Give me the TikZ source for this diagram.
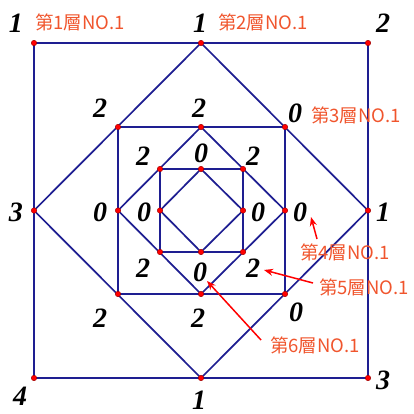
\documentclass[tikz,border=0pt]{standalone}
\usepackage{fontspec}
\setmainfont{Liberation Serif}
\newfontfamily\cjk{Noto Sans CJK TC}
\usetikzlibrary{arrows.meta}
\definecolor{navy}{RGB}{30,30,145}
\definecolor{lbl}{RGB}{240,85,45}
\begin{document}
\begin{tikzpicture}[x=1pt,y=-1pt,
  edge/.style={draw=navy,line width=1.7pt,line join=round},
  dot/.style={circle,fill=red,draw=red!60!black,line width=0.4pt,inner sep=0,minimum size=5.5pt},
  num/.style={font=\fontsize{28}{28}\selectfont\bfseries\itshape,inner sep=0},
  tag/.style={font=\cjk\fontsize{18.5}{18.5}\selectfont,text=lbl,inner sep=0},
  ptr/.style={draw=red,line width=1.5pt,-{Stealth[length=9pt,width=7pt]}}]
\useasboundingbox (0,0) rectangle (413,414);
% vertices
\coordinate (A1) at (34,43);  \coordinate (A2) at (368,43);
\coordinate (A3) at (368,378); \coordinate (A4) at (34,378);
\coordinate (B1) at (201,43);  \coordinate (B2) at (368,210.5);
\coordinate (B3) at (201,378); \coordinate (B4) at (34,210.5);
\coordinate (C1) at (118,127); \coordinate (C2) at (285,127);
\coordinate (C3) at (285,294); \coordinate (C4) at (118,294);
\coordinate (D1) at (201,127); \coordinate (D2) at (285,210.5);
\coordinate (D3) at (201,294); \coordinate (D4) at (118,210.5);
\coordinate (E1) at (160,169); \coordinate (E2) at (243,169);
\coordinate (E3) at (243,252); \coordinate (E4) at (160,252);
\coordinate (F1) at (201,169); \coordinate (F2) at (243,210.5);
\coordinate (F3) at (201,252); \coordinate (F4) at (160,210.5);
% polygons
\foreach \L in {A,B,C,D,E,F}{
  \path[edge] (\L1)--(\L2)--(\L3)--(\L4)--cycle;
}
% dots
\foreach \L in {A,B,C,D,E,F}{
  \foreach \i in {1,2,3,4}{ \node[dot] at (\L\i) {}; }
}
% numbers
\node[num] (nA1) at (16,23) {1};
\node[num] (nB1) at (200,23) {1};
\node[num] (nA2) at (383,23) {2};
\node[num] (nC1) at (100,108) {2};
\node[num] (nD1) at (199,108) {2};
\node[num] (nC2) at (295,113) {0};
\node[num] (nE1) at (143,156) {2};
\node[num] (nF1) at (201,153) {0};
\node[num] (nE2) at (253,156) {2};
\node[num] (nB4) at (16,212) {3};
\node[num] (nD4) at (100,212) {0};
\node[num] (nF4) at (144,212) {0};
\node[num] (nF2) at (258,212) {0};
\node[num] (nD2) at (300,212) {0};
\node[num] (nB2) at (383,212) {1};
\node[num] (nE4) at (143,268) {2};
\node[num] (nF3) at (200,272) {0};
\node[num] (nE3) at (253,268) {2};
\node[num] (nC4) at (100,318) {2};
\node[num] (nD3) at (198,318) {2};
\node[num] (nC3) at (296,312) {0};
\node[num] (nA4) at (20,396) {4};
\node[num] (nB3) at (199,400) {1};
\node[num] (nA3) at (383,380) {3};
% tags
\node[tag] (t1) at (80,22) {第1層NO.1};
\node[tag] (t2) at (263,22) {第2層NO.1};
\node[tag] (t3) at (356,115) {第3層NO.1};
\node[tag] (t4) at (345,252) {第4層NO.1};
\node[tag] (t5) at (364,287) {第5層NO.1};
\node[tag] (t6) at (315,345) {第6層NO.1};
% arrows
\coordinate (s4) at (317,239); \coordinate (e4) at (311,217);
\coordinate (s5) at (313,283); \coordinate (e5) at (264,270);
\coordinate (s6) at (261,340); \coordinate (e6) at (207,281);
\draw[ptr] (s4) -- (e4);
\draw[ptr] (s5) -- (e5);
\draw[ptr] (s6) -- (e6);
\end{tikzpicture}
\end{document}
